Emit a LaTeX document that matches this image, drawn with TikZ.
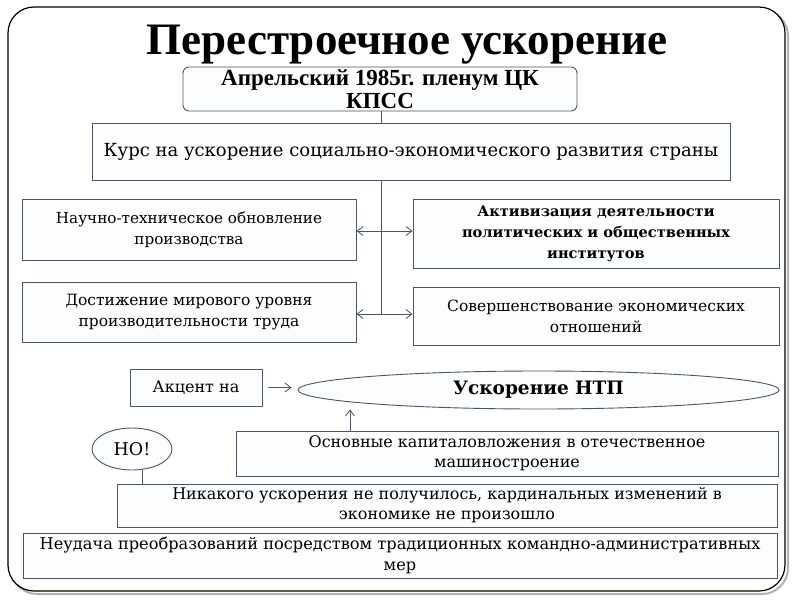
\documentclass[tikz,border=0pt]{standalone}
\usepackage{fontspec}
\setmainfont{DejaVu Serif}
\newfontfamily\timesf{Liberation Serif}
\usetikzlibrary{shapes.geometric,arrows.meta}
\definecolor{edge}{HTML}{4A5662}
\definecolor{boxfill}{HTML}{FBFDFE}
\tikzset{
  box/.style={draw=edge, line width=0.9pt, fill=boxfill, inner sep=0pt, align=center,
    font=\fontsize{15.5}{21}\selectfont},
  conn/.style={draw=edge, line width=0.8pt},
  tip/.style={-{Straight Barb[length=6pt,width=9pt]}},
  tips/.style={{Straight Barb[length=6pt,width=9pt]}-{Straight Barb[length=6pt,width=9pt]}},
}
\begin{document}
\begin{tikzpicture}[x=1pt,y=-1pt]
\useasboundingbox (0,0) rectangle (800,600);
% frame with shadow
\draw[gray!60, line width=2pt, rounded corners=26pt] (11,10) rectangle (788,594);
\draw[black, line width=1.2pt, fill=white, rounded corners=26pt] (8,7) rectangle (785,591);
% title
\node (title) at (407,45) {\timesf\bfseries\fontsize{45}{48}\selectfont Перестроечное ускорение};
% boxes
\node[box, rounded corners=6pt, minimum width=394pt, minimum height=44pt,
      font=\timesf\bfseries\fontsize{23}{23}\selectfont] (b1) at (380,89) {Апрельский 1985г. пленум ЦК\\КПСС};
\node[box, minimum width=638pt, minimum height=57pt, font=\fontsize{18}{21}\selectfont] (b2) at (411,151.5)
  {Курс на ускорение социально-экономического развития страны};
\node[box, minimum width=334pt, minimum height=61pt, font=\fontsize{15.2}{21}\selectfont] (b3) at (189,229.5)
  {Научно-техническое обновление\\производства};
\node[box, minimum width=366pt, minimum height=69pt, font=\bfseries\fontsize{14.6}{21}\selectfont] (b4) at (596,233.5)
  {Активизация деятельности\\политических и общественных\\институтов};
\node[box, minimum width=334pt, minimum height=60pt] (b5) at (189,312)
  {Достижение мирового уровня\\производительности труда};
\node[box, minimum width=366pt, minimum height=58pt] (b6) at (596,316)
  {Совершенствование экономических\\отношений};
\node[box, minimum width=132pt, minimum height=37pt, font=\fontsize{16}{21}\selectfont] (b7) at (196,387.5) {Акцент на};
\node[box, ellipse, minimum width=481pt, minimum height=38pt, font=\bfseries\fontsize{18.5}{21}\selectfont] (ell) at (538.5,390)
  {Ускорение НТП};
\node[box, minimum width=542pt, minimum height=45pt, font=\fontsize{16}{20}\selectfont] (b8) at (507,453.5)
  {Основные капиталовложения в отечественное\\машиностроение};
\node[box, ellipse, minimum width=80pt, minimum height=42pt, font=\fontsize{17.5}{21}\selectfont] (ho) at (132,449) {НО!};
\node[box, minimum width=660pt, minimum height=43pt, font=\fontsize{16}{20}\selectfont] (b9) at (447,505.5)
  {Никакого ускорения не получилось, кардинальных изменений в\\экономике не произошло};
\node[box, minimum width=754pt, minimum height=45pt, font=\fontsize{16.2}{20.5}\selectfont] (b10) at (400,555.5)
  {Неудача преобразований посредством традиционных командно-административных\\мер};
% connectors
\coordinate (trunk) at (381,314);
\coordinate (up) at (350,0);
\coordinate (hoc) at (142,0);
\draw[conn] (b1.south -| trunk) -- (b2.north -| trunk);
\draw[conn] (b2.south -| trunk) -- (trunk);
\draw[conn, tips] (b3.east |- 0,231) -- (b4.west |- 0,231);
\draw[conn, tips] (b5.east |- trunk) -- (b6.west |- trunk);
\draw[conn, tip, shorten <=6pt, shorten >=6pt] (b7.east) -- (b7.east -| ell.west);
\draw[conn, tip] (b8.north -| up) -- (ell.south -| up);
\draw[conn] (ho.south -| hoc) -- (b9.north -| hoc);
\end{tikzpicture}
\end{document}
